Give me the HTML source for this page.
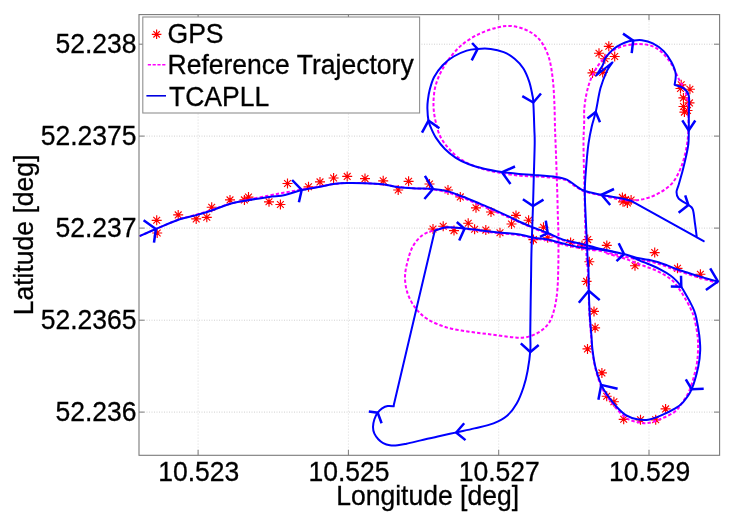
<!DOCTYPE html>
<html><head><meta charset="utf-8"><title>Trajectory plot</title>
<style>html,body{margin:0;padding:0;background:#fff}body{width:734px;height:524px;overflow:hidden}</style>
</head><body>
<svg width="734" height="524" viewBox="0 0 734 524" style="display:block">
<rect width="734" height="524" fill="#fff"/>
<path d="M198.1 14.6 V455.3 M348.4 14.6 V455.3 M498.7 14.6 V455.3 M649.0 14.6 V455.3" stroke="#dadada" stroke-width="1" stroke-dasharray="1 2" fill="none"/>
<path d="M139.0 44.2 H719.6 M139.0 136.1 H719.6 M139.0 228.1 H719.6 M139.0 320.2 H719.6 M139.0 412.1 H719.6" stroke="#d0d0d0" stroke-width="1" stroke-dasharray="1 1.5" fill="none"/>
<clipPath id="c"><rect x="139.0" y="14.6" width="580.6" height="440.7"/></clipPath>
<g clip-path="url(#c)" fill="none" stroke-linecap="butt" stroke-linejoin="round">
<path d="M151.7 220.3 L161.7 220.3 M153.3 216.9 L160.1 223.7 M156.7 215.3 L156.7 225.3 M160.1 216.9 L153.3 223.7 M152.2 233.0 L162.2 233.0 M153.8 229.6 L160.6 236.4 M157.2 228.0 L157.2 238.0 M160.6 229.6 L153.8 236.4 M173.2 214.9 L183.2 214.9 M174.8 211.5 L181.6 218.3 M178.2 209.9 L178.2 219.9 M181.6 211.5 L174.8 218.3 M191.2 218.9 L201.2 218.9 M192.8 215.5 L199.6 222.3 M196.2 213.9 L196.2 223.9 M199.6 215.5 L192.8 222.3 M201.8 217.3 L211.8 217.3 M203.4 213.9 L210.2 220.7 M206.8 212.3 L206.8 222.3 M210.2 213.9 L203.4 220.7 M206.7 207.2 L216.7 207.2 M208.3 203.8 L215.1 210.6 M211.7 202.2 L211.7 212.2 M215.1 203.8 L208.3 210.6 M225.0 199.9 L235.0 199.9 M226.6 196.5 L233.4 203.3 M230.0 194.9 L230.0 204.9 M233.4 196.5 L226.6 203.3 M239.4 199.9 L249.4 199.9 M241.0 196.5 L247.8 203.3 M244.4 194.9 L244.4 204.9 M247.8 196.5 L241.0 203.3 M243.5 197.1 L253.5 197.1 M245.1 193.7 L251.9 200.5 M248.5 192.1 L248.5 202.1 M251.9 193.7 L245.1 200.5 M264.0 201.8 L274.0 201.8 M265.6 198.4 L272.4 205.2 M269.0 196.8 L269.0 206.8 M272.4 198.4 L265.6 205.2 M275.4 204.5 L285.4 204.5 M277.0 201.1 L283.8 207.9 M280.4 199.5 L280.4 209.5 M283.8 201.1 L277.0 207.9 M282.5 183.5 L292.5 183.5 M284.1 180.1 L290.9 186.9 M287.5 178.5 L287.5 188.5 M290.9 180.1 L284.1 186.9 M303.5 186.8 L313.5 186.8 M305.1 183.4 L311.9 190.2 M308.5 181.8 L308.5 191.8 M311.9 183.4 L305.1 190.2 M315.0 181.9 L325.0 181.9 M316.6 178.5 L323.4 185.3 M320.0 176.9 L320.0 186.9 M323.4 178.5 L316.6 185.3 M328.6 178.0 L338.6 178.0 M330.2 174.6 L337.0 181.4 M333.6 173.0 L333.6 183.0 M337.0 174.6 L330.2 181.4 M342.2 176.4 L352.2 176.4 M343.8 173.0 L350.6 179.8 M347.2 171.4 L347.2 181.4 M350.6 173.0 L343.8 179.8 M360.0 178.6 L370.0 178.6 M361.6 175.2 L368.4 182.0 M365.0 173.6 L365.0 183.6 M368.4 175.2 L361.6 182.0 M378.2 180.8 L388.2 180.8 M379.8 177.4 L386.6 184.2 M383.2 175.8 L383.2 185.8 M386.6 177.4 L379.8 184.2 M393.2 190.0 L403.2 190.0 M394.8 186.6 L401.6 193.4 M398.2 185.0 L398.2 195.0 M401.6 186.6 L394.8 193.4 M403.6 181.3 L413.6 181.3 M405.2 177.9 L412.0 184.7 M408.6 176.3 L408.6 186.3 M412.0 177.9 L405.2 184.7 M424.5 184.0 L434.5 184.0 M426.1 180.6 L432.9 187.4 M429.5 179.0 L429.5 189.0 M432.9 180.6 L426.1 187.4 M443.0 190.0 L453.0 190.0 M444.6 186.6 L451.4 193.4 M448.0 185.0 L448.0 195.0 M451.4 186.6 L444.6 193.4 M455.3 196.9 L465.3 196.9 M456.9 193.5 L463.7 200.3 M460.3 191.9 L460.3 201.9 M463.7 193.5 L456.9 200.3 M471.0 207.8 L481.0 207.8 M472.6 204.4 L479.4 211.2 M476.0 202.8 L476.0 212.8 M479.4 204.4 L472.6 211.2 M486.0 212.0 L496.0 212.0 M487.6 208.6 L494.4 215.4 M491.0 207.0 L491.0 217.0 M494.4 208.6 L487.6 215.4 M511.0 215.4 L521.0 215.4 M512.6 212.0 L519.4 218.8 M516.0 210.4 L516.0 220.4 M519.4 212.0 L512.6 218.8 M506.5 224.0 L516.5 224.0 M508.1 220.6 L514.9 227.4 M511.5 219.0 L511.5 229.0 M514.9 220.6 L508.1 227.4 M523.6 220.2 L533.6 220.2 M525.2 216.8 L532.0 223.6 M528.6 215.2 L528.6 225.2 M532.0 216.8 L525.2 223.6 M538.5 227.2 L548.5 227.2 M540.1 223.8 L546.9 230.6 M543.5 222.2 L543.5 232.2 M546.9 223.8 L540.1 230.6 M528.4 239.6 L538.4 239.6 M530.0 236.2 L536.8 243.0 M533.4 234.6 L533.4 244.6 M536.8 236.2 L530.0 243.0 M542.7 237.7 L552.7 237.7 M544.3 234.3 L551.1 241.1 M547.7 232.7 L547.7 242.7 M551.1 234.3 L544.3 241.1 M565.6 242.5 L575.6 242.5 M567.2 239.1 L574.0 245.9 M570.6 237.5 L570.6 247.5 M574.0 239.1 L567.2 245.9 M582.7 239.6 L592.7 239.6 M584.3 236.2 L591.1 243.0 M587.7 234.6 L587.7 244.6 M591.1 236.2 L584.3 243.0 M577.0 245.4 L587.0 245.4 M578.6 242.0 L585.4 248.8 M582.0 240.4 L582.0 250.4 M585.4 242.0 L578.6 248.8 M601.8 245.4 L611.8 245.4 M603.4 242.0 L610.2 248.8 M606.8 240.4 L606.8 250.4 M610.2 242.0 L603.4 248.8 M428.0 229.0 L438.0 229.0 M429.6 225.6 L436.4 232.4 M433.0 224.0 L433.0 234.0 M436.4 225.6 L429.6 232.4 M438.2 226.2 L448.2 226.2 M439.8 222.8 L446.6 229.6 M443.2 221.2 L443.2 231.2 M446.6 222.8 L439.8 229.6 M449.0 230.6 L459.0 230.6 M450.6 227.2 L457.4 234.0 M454.0 225.6 L454.0 235.6 M457.4 227.2 L450.6 234.0 M463.2 223.2 L473.2 223.2 M464.8 219.8 L471.6 226.6 M468.2 218.2 L468.2 228.2 M471.6 219.8 L464.8 226.6 M469.6 229.3 L479.6 229.3 M471.2 225.9 L478.0 232.7 M474.6 224.3 L474.6 234.3 M478.0 225.9 L471.2 232.7 M480.8 230.1 L490.8 230.1 M482.4 226.7 L489.2 233.5 M485.8 225.1 L485.8 235.1 M489.2 226.7 L482.4 233.5 M495.0 232.7 L505.0 232.7 M496.6 229.3 L503.4 236.1 M500.0 227.7 L500.0 237.7 M503.4 229.3 L496.6 236.1 M649.7 252.6 L659.7 252.6 M651.3 249.2 L658.1 256.0 M654.7 247.6 L654.7 257.6 M658.1 249.2 L651.3 256.0 M630.0 265.7 L640.0 265.7 M631.6 262.3 L638.4 269.1 M635.0 260.7 L635.0 270.7 M638.4 262.3 L631.6 269.1 M672.5 268.3 L682.5 268.3 M674.1 264.9 L680.9 271.7 M677.5 263.3 L677.5 273.3 M680.9 264.9 L674.1 271.7 M695.4 274.2 L705.4 274.2 M697.0 270.8 L703.8 277.6 M700.4 269.2 L700.4 279.2 M703.8 270.8 L697.0 277.6 M584.3 261.7 L594.3 261.7 M585.9 258.3 L592.7 265.1 M589.3 256.7 L589.3 266.7 M592.7 258.3 L585.9 265.1 M581.6 281.4 L591.6 281.4 M583.2 278.0 L590.0 284.8 M586.6 276.4 L586.6 286.4 M590.0 278.0 L583.2 284.8 M589.0 311.4 L599.0 311.4 M590.6 308.0 L597.4 314.8 M594.0 306.4 L594.0 316.4 M597.4 308.0 L590.6 314.8 M590.1 327.8 L600.1 327.8 M591.7 324.4 L598.5 331.2 M595.1 322.8 L595.1 332.8 M598.5 324.4 L591.7 331.2 M582.5 348.9 L592.5 348.9 M584.1 345.5 L590.9 352.3 M587.5 343.9 L587.5 353.9 M590.9 345.5 L584.1 352.3 M596.9 372.9 L606.9 372.9 M598.5 369.5 L605.3 376.3 M601.9 367.9 L601.9 377.9 M605.3 369.5 L598.5 376.3 M601.7 396.2 L611.7 396.2 M603.3 392.8 L610.1 399.6 M606.7 391.2 L606.7 401.2 M610.1 392.8 L603.3 399.6 M608.9 401.7 L618.9 401.7 M610.5 398.3 L617.3 405.1 M613.9 396.7 L613.9 406.7 M617.3 398.3 L610.5 405.1 M618.7 419.3 L628.7 419.3 M620.3 415.9 L627.1 422.7 M623.7 414.3 L623.7 424.3 M627.1 415.9 L620.3 422.7 M635.5 419.8 L645.5 419.8 M637.1 416.4 L643.9 423.2 M640.5 414.8 L640.5 424.8 M643.9 416.4 L637.1 423.2 M650.7 419.8 L660.7 419.8 M652.3 416.4 L659.1 423.2 M655.7 414.8 L655.7 424.8 M659.1 416.4 L652.3 423.2 M660.6 408.9 L670.6 408.9 M662.2 405.5 L669.0 412.3 M665.6 403.9 L665.6 413.9 M669.0 405.5 L662.2 412.3 M594.0 53.2 L604.0 53.2 M595.6 49.8 L602.4 56.6 M599.0 48.2 L599.0 58.2 M602.4 49.8 L595.6 56.6 M603.8 46.3 L613.8 46.3 M605.4 42.9 L612.2 49.7 M608.8 41.3 L608.8 51.3 M612.2 42.9 L605.4 49.7 M609.7 56.5 L619.7 56.5 M611.3 53.1 L618.1 59.9 M614.7 51.5 L614.7 61.5 M618.1 53.1 L611.3 59.9 M587.5 72.9 L597.5 72.9 M589.1 69.5 L595.9 76.3 M592.5 67.9 L592.5 77.9 M595.9 69.5 L589.1 76.3 M597.7 72.4 L607.7 72.4 M599.3 69.0 L606.1 75.8 M602.7 67.4 L602.7 77.4 M606.1 69.0 L599.3 75.8 M599.9 58.7 L609.9 58.7 M601.5 55.3 L608.3 62.1 M604.9 53.7 L604.9 63.7 M608.3 55.3 L601.5 62.1 M676.2 84.8 L686.2 84.8 M677.8 81.4 L684.6 88.2 M681.2 79.8 L681.2 89.8 M684.6 81.4 L677.8 88.2 M684.9 89.2 L694.9 89.2 M686.5 85.8 L693.3 92.6 M689.9 84.2 L689.9 94.2 M693.3 85.8 L686.5 92.6 M678.4 97.9 L688.4 97.9 M680.0 94.5 L686.8 101.3 M683.4 92.9 L683.4 102.9 M686.8 94.5 L680.0 101.3 M684.5 102.9 L694.5 102.9 M686.1 99.5 L692.9 106.3 M689.5 97.9 L689.5 107.9 M692.9 99.5 L686.1 106.3 M679.4 112.1 L689.4 112.1 M681.0 108.7 L687.8 115.5 M684.4 107.1 L684.4 117.1 M687.8 108.7 L681.0 115.5 M678.5 106.5 L688.5 106.5 M680.1 103.1 L686.9 109.9 M683.5 101.5 L683.5 111.5 M686.9 103.1 L680.1 109.9 M682.5 110.5 L692.5 110.5 M684.1 107.1 L690.9 113.9 M687.5 105.5 L687.5 115.5 M690.9 107.1 L684.1 113.9 M675.5 88.5 L685.5 88.5 M677.1 85.1 L683.9 91.9 M680.5 83.5 L680.5 93.5 M683.9 85.1 L677.1 91.9 M617.4 197.4 L627.4 197.4 M619.0 194.0 L625.8 200.8 M622.4 192.4 L622.4 202.4 M625.8 194.0 L619.0 200.8 M626.1 200.0 L636.1 200.0 M627.7 196.6 L634.5 203.4 M631.1 195.0 L631.1 205.0 M634.5 196.6 L627.7 203.4 M618.0 201.8 L628.0 201.8 M619.6 198.4 L626.4 205.2 M623.0 196.8 L623.0 206.8 M626.4 198.4 L619.6 205.2 M622.4 202.9 L632.4 202.9 M624.0 199.5 L630.8 206.3 M627.4 197.9 L627.4 207.9 M630.8 199.5 L624.0 206.3 M620.5 199.5 L630.5 199.5 M622.1 196.1 L628.9 202.9 M625.5 194.5 L625.5 204.5 M628.9 196.1 L622.1 202.9" stroke="#ff0000" stroke-width="1.15"/>
<path d="M139.5 236.2 C142.2 235.0 149.3 231.8 155.9 229.0 C162.5 226.2 172.0 222.0 179.0 219.5 C186.0 217.0 192.6 215.8 198.0 214.2 C203.4 212.6 206.4 211.7 211.7 210.0 C216.9 208.3 223.6 205.7 229.5 204.0 C235.4 202.3 240.4 201.4 247.0 200.0 C253.6 198.6 262.7 196.8 269.0 195.5 C275.3 194.2 279.6 193.5 285.0 192.5 C290.4 191.5 295.9 190.5 301.7 189.5 C307.5 188.5 314.7 187.4 320.0 186.5 C325.3 185.6 329.1 184.6 333.6 184.0 C338.1 183.4 342.0 183.1 347.2 183.0 C352.4 182.9 359.1 182.9 365.0 183.2 C370.9 183.4 377.0 183.9 382.7 184.5 C388.4 185.1 393.1 186.3 399.0 187.0 C404.9 187.7 412.3 188.2 418.0 188.6 C423.7 189.0 428.0 188.8 433.0 189.5 C438.0 190.2 443.2 191.2 448.0 192.5 C452.8 193.8 457.1 195.8 461.7 197.5 C466.2 199.2 470.3 200.9 475.3 203.0 C480.3 205.1 486.2 207.7 491.7 210.0 C497.1 212.3 503.4 215.0 508.0 217.0 C512.5 219.0 514.9 220.2 519.0 222.0 C523.1 223.8 527.6 225.8 532.4 227.8 C537.2 229.8 542.6 231.9 547.7 234.0 C552.8 236.1 558.6 238.8 563.0 240.3 C567.4 241.8 568.5 241.6 574.0 243.2 C579.5 244.8 588.5 247.8 595.8 249.8 C603.1 251.8 610.3 253.3 617.6 255.0 C624.9 256.7 634.1 258.7 639.4 259.8 C644.7 260.9 646.4 260.9 649.6 261.5 C652.8 262.1 655.5 262.8 658.4 263.7 C661.3 264.6 664.3 265.8 667.3 266.9 C670.3 268.0 672.7 269.2 676.2 270.4 C679.8 271.6 684.5 273.0 688.6 274.3 C692.7 275.6 696.1 276.8 701.0 278.2 C705.9 279.6 715.1 282.2 717.9 283.0 M606.0 253.0 C608.0 253.6 614.3 255.6 617.7 256.6 C621.1 257.6 623.7 258.2 626.6 259.2 C629.5 260.2 632.5 261.7 635.4 262.8 C638.3 263.9 641.3 264.9 644.3 266.0 C647.2 267.1 650.1 268.1 653.1 269.3 C656.1 270.5 659.0 271.8 662.0 273.4 C665.0 275.0 668.4 277.3 670.8 279.2 C673.2 281.1 674.6 282.9 676.2 284.9 C677.8 286.9 679.1 288.9 680.6 291.1 C682.1 293.3 683.4 295.4 685.0 298.2 C686.6 301.0 688.8 304.6 690.3 307.9 C691.8 311.2 693.0 313.4 694.2 318.0 C695.4 322.6 696.9 330.0 697.5 335.4 C698.1 340.8 698.2 345.3 698.0 350.5 C697.8 355.7 697.6 360.1 696.3 366.5 C695.0 372.9 692.4 382.9 690.0 389.0 C687.6 395.1 684.6 399.1 682.0 403.0 C679.4 406.9 677.8 409.5 674.3 412.1 C670.8 414.7 665.6 416.9 661.2 418.7 C656.8 420.5 652.1 422.4 648.1 423.0 C644.1 423.6 640.9 422.8 637.2 422.0 C633.5 421.2 629.5 420.3 626.0 418.0 C622.5 415.7 619.1 411.6 616.0 408.0 C612.9 404.4 609.9 400.4 607.4 396.6 C604.9 392.8 602.7 390.1 600.7 385.2 C598.7 380.3 596.6 373.3 595.2 367.4 C593.8 361.5 592.9 355.3 592.2 350.0 C591.5 344.7 591.6 341.5 591.1 335.4 C590.6 329.3 589.8 321.1 589.4 313.6 C589.0 306.2 588.8 298.0 588.5 290.7 C588.2 283.4 588.1 275.7 587.8 270.0 C587.5 264.3 586.9 264.0 586.5 256.3 C586.1 248.6 585.6 235.1 585.2 223.6 C584.9 212.1 584.7 200.5 584.4 187.2 C584.1 173.9 583.5 154.5 583.5 143.6 C583.5 132.7 584.1 127.4 584.2 121.8 C584.3 116.2 583.9 114.4 584.2 109.9 C584.6 105.4 585.2 99.8 586.3 94.7 C587.4 89.6 588.7 84.3 590.7 79.4 C592.7 74.5 595.2 69.6 598.3 65.2 C601.4 60.8 605.2 56.4 609.2 53.2 C613.2 50.1 617.6 47.8 622.3 46.3 C627.0 44.8 632.9 44.2 637.6 44.1 C642.3 44.0 646.7 44.3 650.7 45.6 C654.7 46.9 658.2 49.0 661.6 52.1 C665.0 55.2 668.5 59.5 671.4 64.1 C674.3 68.6 676.8 75.2 679.0 79.4 C681.2 83.6 682.9 85.6 684.4 89.2 C685.9 92.8 687.0 96.1 687.7 101.2 C688.4 106.3 688.5 113.7 688.5 120.0 C688.5 126.3 688.4 133.1 687.7 139.2 C687.0 145.3 685.7 151.6 684.4 156.7 C683.1 161.8 682.0 165.5 680.0 169.8 C678.0 174.2 675.6 179.2 672.5 182.8 C669.4 186.4 665.6 189.1 661.6 191.6 C657.6 194.1 652.9 196.2 648.5 197.7 C644.1 199.1 639.8 200.0 635.4 200.3 C631.0 200.7 627.9 200.6 622.3 199.8 C616.6 199.0 607.8 196.9 601.5 195.5 C595.2 194.1 589.0 192.9 584.8 191.5 C580.6 190.1 579.3 188.8 576.3 187.0 C573.3 185.2 569.8 181.9 566.8 180.5 C563.8 179.1 562.5 179.1 558.2 178.5 C553.9 177.9 547.3 177.2 540.8 176.7 C534.3 176.2 527.0 176.5 519.0 175.6 C511.0 174.7 500.1 173.0 492.8 171.5 C485.5 170.0 480.8 168.6 475.4 166.5 C469.9 164.4 464.5 161.8 460.1 158.9 C455.7 156.0 452.5 152.7 449.2 149.0 C445.9 145.3 442.8 141.5 440.5 137.0 C438.2 132.5 436.9 127.0 435.7 121.8 C434.5 116.6 433.6 111.2 433.5 105.6 C433.4 100.0 433.8 93.5 435.0 88.1 C436.2 82.6 438.1 77.8 440.5 72.9 C442.9 68.0 445.6 63.4 449.2 58.7 C452.8 54.0 457.2 48.7 462.3 44.5 C467.4 40.3 474.0 36.4 479.8 33.6 C485.6 30.8 492.1 28.8 497.2 27.5 C502.3 26.2 505.9 25.8 510.3 26.0 C514.7 26.2 519.4 27.4 523.4 28.8 C527.4 30.2 531.0 32.1 534.3 34.7 C537.6 37.3 540.5 40.3 543.0 44.5 C545.5 48.7 547.9 54.0 549.5 59.8 C551.1 65.6 552.0 72.5 552.8 79.4 C553.6 86.3 553.9 93.1 554.3 101.2 C554.7 109.3 554.8 120.9 555.0 128.0 C555.2 135.1 555.2 133.7 555.6 143.6 C556.0 153.5 556.7 175.5 557.1 187.2 C557.5 198.9 557.6 206.3 557.8 214.0 C558.0 221.7 558.3 225.8 558.4 233.6 C558.5 241.4 558.5 251.8 558.4 260.9 C558.2 270.0 558.1 280.4 557.5 288.1 C556.9 295.8 556.1 301.5 554.8 307.2 C553.4 312.9 551.9 318.1 549.4 322.2 C546.9 326.3 543.7 329.2 539.8 331.7 C535.9 334.2 530.7 336.3 526.2 337.2 C521.7 338.1 518.5 337.7 512.6 337.2 C506.7 336.7 498.1 335.3 490.8 334.4 C483.5 333.5 476.3 332.8 469.0 331.7 C461.7 330.6 454.0 329.6 447.2 327.6 C440.4 325.6 433.3 322.7 428.1 319.5 C422.9 316.3 419.3 312.9 415.9 308.6 C412.5 304.3 409.5 298.8 407.7 293.6 C405.9 288.4 405.0 282.6 405.0 277.2 C405.0 271.8 406.3 266.1 407.7 260.9 C409.1 255.7 410.6 250.2 413.1 245.9 C415.6 241.6 419.2 237.6 422.7 235.0 C426.2 232.4 430.0 231.7 434.1 230.4 C438.2 229.2 442.1 227.8 447.2 227.5 C452.3 227.2 458.5 228.1 464.9 228.8 C471.2 229.5 479.2 230.7 485.3 231.5 C491.4 232.3 496.2 232.9 501.7 233.5 C507.1 234.1 512.5 234.2 518.0 235.0 C523.5 235.8 529.4 237.6 534.4 238.5 C539.4 239.4 542.9 239.5 547.7 240.5 C552.5 241.5 557.6 243.2 563.0 244.5 C568.4 245.8 574.5 247.2 580.0 248.2 C585.5 249.2 593.2 250.1 595.8 250.5" stroke="#ff00ff" stroke-width="2" stroke-dasharray="3.4 2.1"/>
<path d="M139.5 236.2 C142.2 235.0 149.3 231.8 155.9 229.0 C162.5 226.2 172.0 221.9 179.0 219.5 C186.0 217.1 192.6 216.1 198.0 214.6 C203.4 213.1 206.4 212.3 211.7 210.5 C216.9 208.7 223.6 205.7 229.5 204.0 C235.4 202.3 240.4 201.6 247.0 200.4 C253.6 199.2 262.7 197.8 269.0 196.9 C275.3 196.0 279.6 196.2 285.0 195.0 C290.4 193.8 295.9 191.4 301.7 190.0 C307.5 188.6 314.7 187.8 320.0 186.8 C325.3 185.8 329.1 184.6 333.6 184.0 C338.1 183.4 342.0 183.1 347.2 183.0 C352.4 182.9 359.1 183.0 365.0 183.2 C370.9 183.4 377.0 183.6 382.7 184.3 C388.4 185.0 393.1 186.6 399.0 187.3 C404.9 188.0 412.3 188.1 418.0 188.4 C423.7 188.7 428.0 188.5 433.0 189.0 C438.0 189.5 443.2 190.2 448.0 191.4 C452.8 192.6 457.1 194.6 461.7 196.3 C466.2 198.0 470.3 199.8 475.3 201.8 C480.3 203.9 486.2 206.2 491.7 208.6 C497.1 211.0 503.4 214.0 508.0 216.2 C512.5 218.3 514.9 219.7 519.0 221.5 C523.1 223.3 527.6 225.3 532.4 227.2 C537.2 229.1 542.6 230.9 547.7 233.0 C552.8 235.1 557.6 237.8 563.0 239.6 C568.4 241.3 574.5 242.2 580.0 243.5 C585.5 244.8 590.5 246.3 595.8 247.6 C601.1 248.9 606.9 250.1 612.0 251.3 C617.1 252.5 622.1 253.6 626.6 254.8 C631.1 256.0 635.2 257.4 639.0 258.3 C642.8 259.2 646.4 259.5 649.6 260.1 C652.8 260.8 655.5 261.3 658.4 262.2 C661.3 263.1 664.3 264.3 667.3 265.4 C670.3 266.5 672.7 267.7 676.2 269.0 C679.8 270.3 684.5 271.7 688.6 273.0 C692.7 274.3 696.1 275.5 701.0 276.9 C705.9 278.3 715.1 280.8 717.9 281.6 M617.0 252.6 C618.6 253.0 623.5 253.9 626.6 254.9 C629.7 255.9 632.5 257.4 635.4 258.7 C638.3 259.9 641.3 261.2 644.3 262.4 C647.2 263.6 650.1 264.7 653.1 266.0 C656.1 267.3 659.0 268.8 662.0 270.4 C665.0 272.0 668.3 273.9 670.8 275.7 C673.3 277.5 675.3 279.6 677.0 281.4 C678.7 283.2 679.6 284.4 680.9 286.3 C682.2 288.2 683.6 290.5 685.0 292.9 C686.4 295.3 687.9 297.9 689.4 300.8 C690.9 303.7 692.8 307.1 693.9 310.0 C695.0 312.9 695.4 313.8 696.3 318.0 C697.2 322.2 698.6 330.0 699.3 335.4 C699.9 340.8 700.4 345.3 700.2 350.5 C700.0 355.7 699.7 360.1 698.3 366.5 C696.9 372.9 694.2 383.2 691.7 389.2 C689.2 395.2 685.9 399.0 683.0 402.3 C680.1 405.6 677.9 406.7 674.3 408.9 C670.7 411.1 665.6 413.6 661.2 415.4 C656.8 417.2 652.1 419.1 648.1 419.8 C644.1 420.5 640.8 420.0 637.2 419.3 C633.6 418.6 629.8 417.5 626.3 415.4 C622.8 413.3 619.6 410.0 616.5 406.7 C613.4 403.4 610.3 399.5 607.8 395.8 C605.2 392.1 603.2 389.4 601.2 384.7 C599.2 380.0 597.0 373.2 595.5 367.4 C594.0 361.6 593.2 355.3 592.5 350.0 C591.8 344.7 591.9 341.5 591.4 335.4 C590.9 329.3 590.1 321.1 589.7 313.6 C589.3 306.2 589.0 298.0 588.8 290.7 C588.6 283.4 588.7 275.7 588.5 270.0 C588.3 264.3 587.9 264.0 587.5 256.3 C587.1 248.6 586.5 234.4 586.0 223.6 C585.5 212.8 584.8 201.3 584.8 191.6 C584.8 181.9 585.7 173.4 586.3 165.4 C586.9 157.4 587.6 150.1 588.5 143.6 C589.4 137.1 590.6 131.4 591.8 126.2 C593.0 121.0 594.2 118.4 595.7 112.1 C597.2 105.8 598.6 95.0 600.5 88.1 C602.4 81.2 605.1 75.0 607.1 70.7 C609.1 66.4 611.6 63.8 612.5 62.4 L596.2 75.5 C597.3 73.8 601.2 68.0 602.7 65.2 C604.2 62.4 603.6 60.9 604.9 58.7 C606.2 56.5 608.3 54.1 610.3 52.1 C612.3 50.1 614.5 48.2 616.9 46.7 C619.3 45.2 621.8 43.8 624.5 42.8 C627.2 41.8 630.3 41.0 633.2 40.6 C636.1 40.2 638.6 39.7 641.9 40.2 C645.2 40.7 649.2 41.6 652.8 43.4 C656.4 45.2 660.6 48.0 663.7 51.1 C666.8 54.2 669.4 58.2 671.4 62.0 C673.4 65.8 675.2 70.1 675.7 73.9 C676.2 77.7 674.8 83.0 674.6 84.8 C676.1 85.3 681.0 86.3 683.4 88.1 C685.8 89.9 687.9 91.0 688.8 95.7 C689.7 100.4 688.8 111.1 688.8 116.5 C688.8 121.9 688.9 123.8 688.8 128.3 C688.7 132.8 688.9 138.5 688.4 143.6 C687.9 148.7 686.5 154.2 685.5 158.9 C684.5 163.6 683.4 167.6 682.3 171.9 C681.1 176.2 679.6 181.7 678.6 185.0 C677.6 188.3 676.5 189.8 676.5 192.0 C676.5 194.2 676.6 196.3 678.6 198.5 C680.6 200.7 686.0 203.2 688.4 205.0 C690.8 206.8 691.7 206.3 692.8 209.4 C693.9 212.5 694.3 218.9 695.0 223.6 C695.7 228.2 696.5 235.0 696.8 237.3 L703.7 241.2 L630.7 200.7 C629.2 200.3 626.9 199.6 622.0 198.6 C617.1 197.6 607.7 196.1 601.5 194.8 C595.3 193.5 589.0 192.4 584.8 191.0 C580.6 189.6 579.3 188.1 576.3 186.2 C573.3 184.3 570.2 181.1 566.8 179.6 C563.4 178.1 561.4 177.8 556.0 177.0 C550.6 176.2 540.5 175.5 534.3 175.0 C528.1 174.5 524.4 174.5 519.0 174.0 C513.6 173.5 507.6 172.9 501.8 172.0 C496.0 171.1 489.6 170.0 484.1 168.7 C478.6 167.4 473.6 166.1 468.9 164.3 C464.2 162.5 459.8 160.4 455.8 157.8 C451.8 155.2 448.2 152.3 444.9 149.0 C441.6 145.7 438.6 141.7 436.2 138.1 C433.8 134.5 432.0 130.1 430.7 127.2 C429.4 124.3 429.1 123.8 428.5 120.7 C427.9 117.6 427.5 112.2 427.4 108.7 C427.3 105.2 427.5 103.1 427.9 100.0 C428.3 96.9 428.6 94.1 429.6 90.3 C430.6 86.5 431.8 81.4 434.0 77.2 C436.2 73.0 439.4 68.7 442.7 65.2 C446.0 61.8 449.6 58.9 453.6 56.5 C457.6 54.1 462.7 51.9 466.7 50.6 C470.7 49.3 473.6 49.2 477.6 48.9 C481.6 48.6 486.4 48.4 490.7 48.9 C495.0 49.4 499.7 50.5 503.7 52.1 C507.7 53.7 511.3 56.0 514.6 58.7 C517.9 61.4 521.0 64.7 523.4 68.5 C525.8 72.3 527.7 77.2 529.2 81.6 C530.7 86.0 531.6 91.2 532.3 94.7 C533.0 98.2 533.0 96.8 533.3 102.3 C533.6 107.8 534.1 121.1 534.3 128.0 C534.5 134.9 534.8 135.5 534.7 143.6 C534.6 151.7 534.1 165.9 533.8 176.3 C533.5 186.7 533.4 193.7 533.0 206.0 C532.6 218.3 531.8 238.6 531.5 250.0 C531.2 261.4 531.3 261.2 531.1 274.5 C530.9 287.8 530.4 317.3 530.3 330.0 C530.2 342.7 530.8 343.8 530.3 350.6 C529.8 357.4 528.7 364.8 527.6 370.9 C526.5 377.0 525.3 381.8 523.5 387.2 C521.7 392.6 519.4 398.8 516.7 403.6 C514.0 408.4 511.0 412.5 507.1 415.8 C503.2 419.1 498.9 421.3 493.5 423.4 C488.1 425.5 480.5 426.9 474.4 428.4 C468.3 429.9 462.4 431.1 456.7 432.4 C451.0 433.6 446.0 434.6 440.0 435.9 C434.0 437.2 426.4 439.1 420.8 440.4 C415.2 441.7 410.4 442.9 406.5 443.7 C402.6 444.5 400.4 445.0 397.6 445.3 C394.8 445.6 392.3 445.7 389.9 445.3 C387.5 444.9 385.1 444.1 383.2 443.1 C381.3 442.1 379.8 440.8 378.3 439.2 C376.8 437.6 375.3 435.7 374.4 433.7 C373.5 431.7 373.0 429.4 373.0 427.0 C373.0 424.6 373.6 421.7 374.4 419.3 C375.2 416.9 376.4 414.5 377.7 412.7 C379.0 410.9 380.4 409.4 382.1 408.3 C383.8 407.2 385.8 406.3 387.7 406.0 C389.6 405.7 392.7 406.2 393.7 406.3 L393.9 404.5 L434.8 230.6 C436.9 230.1 442.2 227.6 447.2 227.3 C452.2 227.0 458.5 228.0 464.9 228.6 C471.2 229.2 479.2 230.2 485.3 230.9 C491.4 231.6 496.2 232.2 501.7 232.8 C507.1 233.4 512.5 233.4 518.0 234.2 C523.5 235.0 529.4 236.8 534.4 237.7 C539.4 238.6 542.9 238.6 547.7 239.6 C552.5 240.6 557.6 242.2 563.0 243.5 C568.4 244.8 573.8 246.3 580.0 247.3 C586.2 248.3 593.8 248.6 600.0 249.5 C606.2 250.4 614.2 252.1 617.0 252.6" stroke="#0000ff" stroke-width="2"/>
</g>
<path d="M143.6 220.3 L155.9 229.0 L154.0 242.6 M292.1 180.0 L301.7 190.0 L298.9 202.3 M424.9 175.9 L433.0 189.0 L424.4 199.0 M456.8 222.0 L464.5 228.8 L459.2 240.4 M515.0 166.5 L502.0 172.2 L510.5 184.0 M614.0 189.0 L601.5 194.8 L610.2 205.0 M522.9 199.2 L533.0 206.0 L543.5 199.6 M545.8 220.6 L547.7 233.0 L540.0 236.8 M472.1 43.0 L477.6 48.9 L471.7 60.4 M522.3 96.2 L533.3 102.5 L541.0 93.5 M422.0 132.7 L428.5 120.7 L439.4 128.3 M623.0 33.6 L633.2 40.6 L631.7 53.2 M587.4 118.6 L595.7 112.1 L600.0 122.3 M682.3 120.3 L688.7 130.5 L695.3 120.5 M685.2 195.3 L688.4 205.0 L678.6 212.7 M618.7 243.2 L624.1 254.1 L616.5 261.1 M710.2 268.3 L717.9 281.4 L705.9 290.0 M681.0 275.7 L681.3 286.8 L670.8 286.6 M578.8 302.7 L588.8 290.7 L599.7 300.1 M685.8 379.4 L691.7 389.2 L703.7 388.8 M617.6 388.8 L601.2 384.9 L598.4 399.7 M520.8 343.4 L530.3 352.0 L538.7 345.0 M464.2 423.3 L456.2 432.5 L465.5 440.1 M368.8 411.4 L377.7 412.7 L381.6 423.2" stroke="#0000ff" stroke-width="2.5" fill="none" stroke-linejoin="miter"/>
<path d="M198.1 455.3 v-5.5 M198.1 14.6 v5.5 M348.4 455.3 v-5.5 M348.4 14.6 v5.5 M498.7 455.3 v-5.5 M498.7 14.6 v5.5 M649.0 455.3 v-5.5 M649.0 14.6 v5.5 M139.0 44.2 h5.5 M719.6 44.2 h-5.5 M139.0 136.1 h5.5 M719.6 136.1 h-5.5 M139.0 228.1 h5.5 M719.6 228.1 h-5.5 M139.0 320.2 h5.5 M719.6 320.2 h-5.5 M139.0 412.1 h5.5 M719.6 412.1 h-5.5" stroke="#7a7a7a" stroke-width="1" fill="none"/>
<rect x="139.0" y="14.6" width="580.6" height="440.7" fill="none" stroke="#7a7a7a" stroke-width="1.1"/>
<rect x="142.8" y="17" width="276.8" height="96" fill="#fff" stroke="#909090" stroke-width="1.1"/>
<path d="M151.8 34.3 L161.4 34.3 M153.4 31.1 L159.8 37.5 M156.6 29.5 L156.6 39.1 M159.8 31.1 L153.4 37.5" stroke="#ff0000" stroke-width="1.2" fill="none"/>
<path d="M147.8 64.8 H166" stroke="#ff00ff" stroke-width="1.5" stroke-dasharray="3.2 1.6" fill="none"/>
<path d="M146.4 95.8 H166" stroke="#0000e0" stroke-width="1.6" fill="none"/>
<g font-family="'Liberation Sans', Arial, sans-serif" font-size="27.3" fill="#000" stroke="#000" stroke-width="0.3">
<text transform="translate(167.5 42.9) scale(0.972 1)" text-anchor="start">GPS</text>
<text transform="translate(167.5 73.9) scale(0.972 1)" text-anchor="start">Reference Trajectory</text>
<text transform="translate(169.0 105.8) scale(0.972 1)" text-anchor="start">TCAPLL</text>
<text transform="translate(198.7 480.9) scale(0.972 1)" text-anchor="middle">10.523</text>
<text transform="translate(349.0 480.9) scale(0.972 1)" text-anchor="middle">10.525</text>
<text transform="translate(499.3 480.9) scale(0.972 1)" text-anchor="middle">10.527</text>
<text transform="translate(649.6 480.9) scale(0.972 1)" text-anchor="middle">10.529</text>
<text transform="translate(136.6 53.2) scale(0.972 1)" text-anchor="end">52.238</text>
<text transform="translate(136.6 145.1) scale(0.972 1)" text-anchor="end">52.2375</text>
<text transform="translate(136.6 237.1) scale(0.972 1)" text-anchor="end">52.237</text>
<text transform="translate(136.6 329.2) scale(0.972 1)" text-anchor="end">52.2365</text>
<text transform="translate(136.6 421.1) scale(0.972 1)" text-anchor="end">52.236</text>
<text transform="translate(427.6 505.1) scale(0.972 1)" text-anchor="middle">Longitude [deg]</text>
<text transform="translate(32.8 235.0) rotate(-90) scale(0.972 1)" text-anchor="middle">Latitude [deg]</text>
</g>
</svg>
</body></html>
